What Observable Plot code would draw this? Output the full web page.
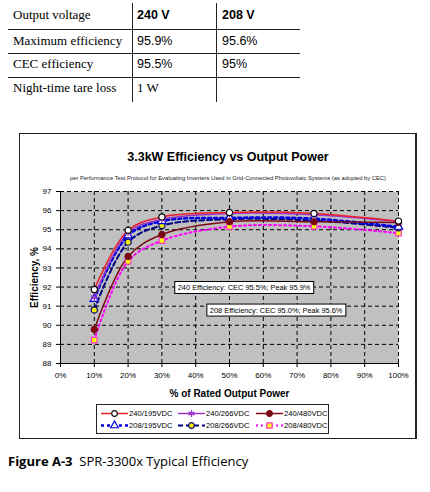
<!DOCTYPE html>
<html><head><meta charset="utf-8">
<script src="https://cdn.jsdelivr.net/npm/d3@7"></script>
<script src="https://cdn.jsdelivr.net/npm/@observablehq/plot@0.6"></script>
<style>
body{margin:0;background:#fff;width:430px;height:492px;position:relative;overflow:hidden;}
.abs{position:absolute;}
.tbl{font-size:13px;line-height:16px;white-space:nowrap;}
.serif{font-family:"Liberation Serif","Times New Roman",serif;}
.sans{font-family:"Liberation Sans",Arial,sans-serif;}
</style></head><body>
<div id="root"></div>
<script>
// ---------- data ----------
const tableHeader = ["Output voltage", "240 V", "208 V"];
const tableRows = [
  ["Maximum efficiency", "95.9%", "95.6%"],
  ["CEC efficiency", "95.5%", "95%"],
  ["Night-time tare loss", "1 W", ""]
];
const outputPct = [10, 20, 30, 50, 75, 100];
const seriesNames = ["240/195VDC", "240/266VDC", "240/480VDC", "208/195VDC", "208/266VDC", "208/480VDC"];
const eff240_195 = [91.87, 94.97, 95.67, 95.90, 95.85, 95.45];
const eff240_266 = [91.45, 94.85, 95.55, 95.85, 95.78, 95.42];
const eff240_480 = [89.78, 93.60, 94.75, 95.42, 95.42, 95.38];
const eff208_195 = [91.38, 94.70, 95.45, 95.62, 95.58, 95.15];
const eff208_266 = [90.80, 94.35, 95.22, 95.55, 95.48, 95.10];
const eff208_480 = [89.22, 93.35, 94.43, 95.16, 95.18, 94.82];
const xTicks = [0, 10, 20, 30, 40, 50, 60, 70, 80, 90, 100];
const yTicks = [88, 89, 90, 91, 92, 93, 94, 95, 96, 97];
const annotations = [
  {x: 54.3, y: 91.97, text: "240 Efficiency: CEC 95.5%; Peak 95.9%"},
  {x: 63.8, y: 90.79, text: "208 Efficiency: CEC 95.0%; Peak 95.6%"}
];
const titleText = "3.3kW Efficiency vs Output Power";
const subtitleText = "per Performance Test Protocol for Evaluating Inverters Used in Grid-Connected Photovoltaic Systems (as adopted by CEC)";
const captionBold = "Figure A-3";
const captionText = "SPR-3300x Typical Efficiency";

// ---------- styles ----------
const seriesValues = [eff240_195, eff240_266, eff240_480, eff208_195, eff208_266, eff208_480];
const styles = [
  {stroke: "#e8202a", width: 1.5, dash: null, symbol: "circle", fill: "white", mstroke: "black"},
  {stroke: "#9a35c8", width: 1.5, dash: null, symbol: "asterisk", fill: "none", mstroke: "#9a35c8"},
  {stroke: "#7a0a14", width: 1.5, dash: null, symbol: "circle", fill: "#7a0a14", mstroke: "#7a0a14"},
  {stroke: "#0000e0", width: 2.5, dash: "3,3", symbol: "triangle", fill: "white", mstroke: "#0000e0"},
  {stroke: "#000080", width: 2, dash: "5,3", symbol: "circle", fill: "#f5f000", mstroke: "#000080"},
  {stroke: "#ff00ff", width: 2, dash: "2,3", symbol: "square", fill: "#ffff00", mstroke: "#ff33cc"}
];
const data = seriesNames.map((name, i) => outputPct.map((p, j) => ({series: name, x: p, y: seriesValues[i][j]})));

const root = document.getElementById("root");
function addDiv(html, css, cls) {
  const d = document.createElement("div");
  d.className = "abs " + (cls || "");
  d.style.cssText += css;
  d.innerHTML = html;
  root.appendChild(d);
  return d;
}

// ---------- table ----------
const colX = [13, 137, 222];
const rowY = [7, 33, 56, 80];
const allRows = [tableHeader, ...tableRows];
allRows.forEach((row, r) => {
  row.forEach((cell, c) => {
    let cls = "tbl ";
    let st = `left:${colX[c]}px;top:${rowY[r]}px;`;
    if (r === 0 && c > 0) { cls += "sans"; st += "font-weight:bold;font-size:12.5px;"; }
    else if (c === 0 || cell === "1 W") cls += "serif";
    else { cls += "sans"; st += "font-size:12.5px;"; }
    addDiv(cell, st, cls);
  });
});
[29, 53, 77].forEach(y => addDiv("", `left:8px;top:${y}px;width:292px;height:0;border-top:1px solid #222;`));
[132, 216].forEach(x => addDiv("", `left:${x}px;top:3px;width:0;height:99px;border-left:1.5px solid #222;`));

// ---------- chart box ----------
addDiv("", "left:19px;top:133px;width:395px;height:304px;border:1px solid #222;border-right:2px solid #222;");
addDiv(titleText, "left:28px;top:149px;width:400px;text-align:center;font:bold 12.5px 'Liberation Sans',Arial,sans-serif;line-height:16px;");
addDiv(subtitleText, "left:28px;top:175px;width:400px;text-align:center;font:5.8px 'Liberation Sans',Arial,sans-serif;line-height:7px;color:#222;white-space:nowrap;");

const lineMarks = [];
for (let i = styles.length - 1; i >= 0; i--) {
  const s = styles[i];
  lineMarks.push(Plot.line(data[i], {x: "x", y: "y", stroke: s.stroke, strokeWidth: s.width, strokeDasharray: s.dash, curve: "catmull-rom"}));
}
const dotMarks = [];
for (let i = styles.length - 1; i >= 0; i--) {
  const s = styles[i];
  dotMarks.push(Plot.dot(data[i], {x: "x", y: "y", symbol: () => s.symbol, r: s.symbol === "asterisk" ? 3.6 : 3.1, fill: s.fill, stroke: s.mstroke, strokeWidth: 1.2}));
}

const chart = Plot.plot({
  width: 395, height: 220,
  marginLeft: 40, marginTop: 11, marginBottom: 37, marginRight: 17,
  style: {fontFamily: "'Liberation Sans', Arial, sans-serif", fontSize: "8px", color: "black", background: "transparent", overflow: "visible"},
  x: {domain: [0, 100], label: "% of Rated Output Power"},
  y: {domain: [88, 97], label: "Efficiency, %"},
  marks: [
    Plot.frame({fill: "#c0c0c0", stroke: "none"}),
    Plot.gridX(xTicks, {stroke: "black", strokeOpacity: 1, strokeDasharray: "4,3"}),
    Plot.gridY(yTicks, {stroke: "black", strokeOpacity: 1, strokeDasharray: "4,3"}),
    Plot.ruleX([0], {stroke: "black"}),
    Plot.ruleY([88], {stroke: "black"}),
    Plot.axisX(xTicks, {tickFormat: d => d + "%", tickSize: 4, tickPadding: 5, label: "% of Rated Output Power", labelAnchor: "center", labelArrow: "none", labelOffset: 33}),
    Plot.axisY(yTicks, {tickSize: 4, tickPadding: 5, label: "Efficiency, %", labelAnchor: "center", labelArrow: "none", labelOffset: 30}),
    ...lineMarks,
    ...dotMarks,
    Plot.text(annotations, {x: "x", y: "y", text: "text", fontSize: 7.4, fill: "black", className: "annot"})
  ]
});
const holder = addDiv("", "left:20px;top:180px;");
holder.appendChild(chart);

// axis label styling
chart.querySelectorAll('[aria-label="x-axis label"] text, [aria-label="y-axis label"] text').forEach(t => {
  t.style.fontWeight = "bold"; t.style.fontSize = "10px";
});
// boxes behind annotations
chart.querySelectorAll("g.annot text, .annot text").forEach(t => {
  const b = t.getBBox();
  const r = document.createElementNS("http://www.w3.org/2000/svg", "rect");
  r.setAttribute("x", b.x - 3); r.setAttribute("y", b.y - 1.5);
  r.setAttribute("width", b.width + 6); r.setAttribute("height", b.height + 3);
  r.setAttribute("fill", "white"); r.setAttribute("stroke", "black"); r.setAttribute("stroke-width", "1");
  const tr = t.getAttribute("transform");
  if (tr) r.setAttribute("transform", tr);
  t.parentNode.insertBefore(r, t);
});

// ---------- legend ----------
const leg = addDiv("", "left:96px;top:404px;width:231px;height:28px;border:1px solid #222;background:white;");
const lsvg = d3.select(leg).append("svg").attr("width", 231).attr("height", 28).style("position", "absolute").style("left", 0).style("top", 0);
const colStart = [4, 81, 159];
const symMap = {circle: d3.symbolCircle, asterisk: d3.symbolAsterisk, triangle: d3.symbolTriangle, square: d3.symbolSquare};
seriesNames.forEach((name, i) => {
  const s = styles[i];
  const gx = colStart[i % 3], gy = i < 3 ? 8.5 : 20.5;
  lsvg.append("line").attr("x1", gx).attr("x2", gx + 27).attr("y1", gy).attr("y2", gy)
    .attr("stroke", s.stroke).attr("stroke-width", s.width).attr("stroke-dasharray", s.dash);
  const size = s.symbol === "asterisk" ? 32 : (s.symbol === "square" ? 28 : 26);
  lsvg.append("path").attr("d", d3.symbol(symMap[s.symbol], size)()).attr("transform", `translate(${gx + 13.5},${gy})`)
    .attr("fill", s.fill).attr("stroke", s.mstroke).attr("stroke-width", 1.2);
  lsvg.append("text").attr("x", gx + 28).attr("y", gy + 2.8).text(name)
    .style("font", "7.6px 'Liberation Sans', Arial, sans-serif");
});

// ---------- caption ----------
addDiv(`<b>${captionBold}</b>&nbsp; ${captionText}`, "left:8px;top:452px;font:13px 'Open Sans','DejaVu Sans',sans-serif;line-height:18px;white-space:nowrap;");
</script>
</body></html>
